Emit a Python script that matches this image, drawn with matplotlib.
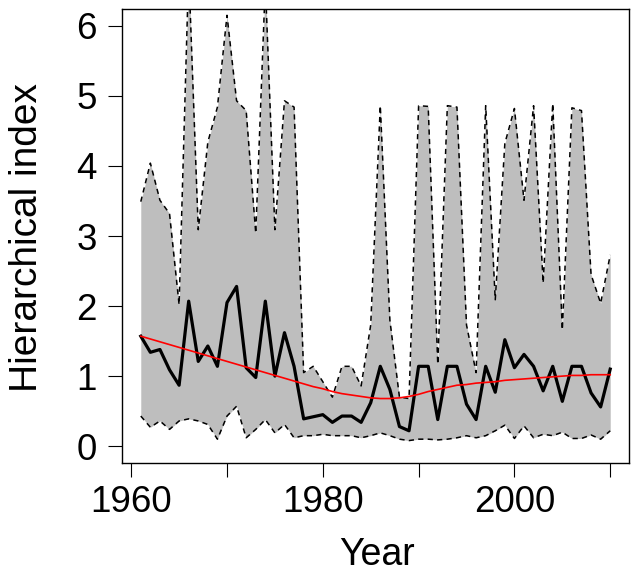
import numpy as np
import matplotlib
matplotlib.use("Agg")
import matplotlib.pyplot as plt

plt.rcParams['font.family'] = ['Liberation Sans', 'DejaVu Sans']

years = np.arange(1961, 2011)

mean_idx = [1.57, 1.34, 1.38, 1.09, 0.87, 2.07, 1.21, 1.43, 1.14, 2.05,
            2.28, 1.12, 0.98, 2.07, 1.00, 1.62, 1.14, 0.39, 0.42, 0.45,
            0.34, 0.43, 0.43, 0.34, 0.62, 1.14, 0.81, 0.28, 0.22, 1.14,
            1.14, 0.38, 1.14, 1.14, 0.60, 0.38, 1.14, 0.77, 1.52, 1.12,
            1.31, 1.14, 0.79, 1.14, 0.64, 1.14, 1.14, 0.76, 0.56, 1.10]

upper = [3.49, 4.04, 3.51, 3.32, 2.02, 6.80, 3.09, 4.34, 4.84, 6.15,
         4.93, 4.79, 3.04, 6.60, 3.09, 4.93, 4.84, 1.05, 1.14, 0.92,
         0.70, 1.14, 1.14, 0.86, 1.73, 4.86, 1.80, 0.70, 0.68, 4.86,
         4.85, 1.17, 4.86, 4.84, 1.73, 1.05, 4.86, 2.09, 4.32, 4.82,
         3.51, 4.86, 2.33, 4.89, 1.66, 4.83, 4.79, 2.45, 2.04, 2.73]

lower = [0.43, 0.27, 0.36, 0.24, 0.36, 0.39, 0.36, 0.31, 0.10, 0.43,
         0.57, 0.12, 0.24, 0.38, 0.19, 0.31, 0.12, 0.15, 0.15, 0.17,
         0.15, 0.15, 0.15, 0.12, 0.15, 0.19, 0.15, 0.10, 0.08, 0.10,
         0.10, 0.09, 0.10, 0.12, 0.15, 0.12, 0.15, 0.22, 0.30, 0.11,
         0.29, 0.12, 0.17, 0.15, 0.20, 0.11, 0.11, 0.16, 0.10, 0.22]

# smoothed trend (red)
trend = [1.57, 1.53, 1.49, 1.45, 1.41, 1.37, 1.33, 1.29, 1.25, 1.21,
         1.17, 1.13, 1.09, 1.05, 1.01, 0.97, 0.93, 0.89, 0.85, 0.82,
         0.78, 0.75, 0.73, 0.71, 0.69, 0.68, 0.68, 0.69, 0.71, 0.74,
         0.78, 0.81, 0.84, 0.87, 0.88, 0.90, 0.91, 0.92, 0.94, 0.95,
         0.96, 0.97, 0.98, 0.99, 1.00, 1.01, 1.01, 1.02, 1.02, 1.02]

xticks = [1960, 1970, 1980, 1990, 2000, 2010]
xticklabels = ['1960', '', '1980', '', '2000', '']
yticks = [0, 1, 2, 3, 4, 5, 6]

fig = plt.figure(figsize=(6.39, 5.74), dpi=100)
ax = fig.add_axes([122/639, 1 - 463/574, 507/639, 454/574])

ax.fill_between(years, lower, upper, color='#bebebe', lw=0)
dash = (0, (3.4, 2.8))
ax.plot(years, upper, color='black', lw=1.1, linestyle=dash)
ax.plot(years, lower, color='black', lw=1.1, linestyle=dash)
ax.plot(years, mean_idx, color='black', lw=2.3)
ax.plot(years, trend, color='red', lw=1.2)

ax.set_xlim(1959.04, 2011.96)
ax.set_ylim(-0.24, 6.24)
ax.set_xticks(xticks)
ax.set_xticklabels(xticklabels)
ax.set_yticks(yticks)
ax.tick_params(axis='x', length=10, width=0.8, pad=5.5, labelsize=26.5)
ax.tick_params(axis='y', length=10, width=0.8, pad=8, labelsize=26.5)
for s in ax.spines.values():
    s.set_linewidth(1.0)

fig.text(377/639, 1 - 565/574, 'Year', ha='center', va='baseline', fontsize=27)
fig.text(27/639, 1 - 238/574, 'Hierarchical index', ha='center', va='center',
         rotation=90, fontsize=28)

fig.savefig('out.png', dpi=100)
